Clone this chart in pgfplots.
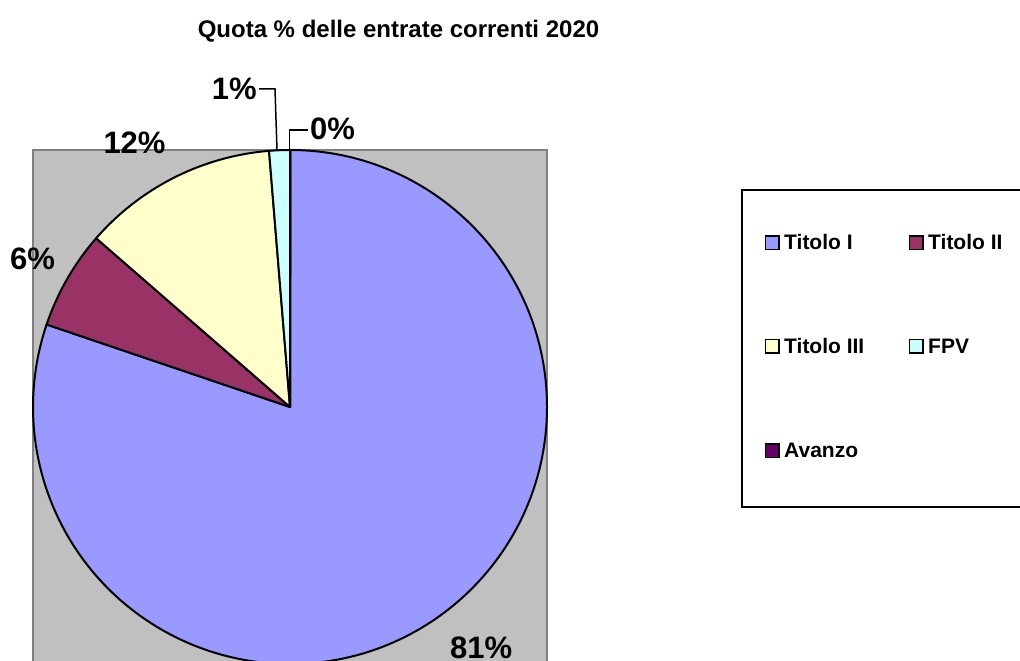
\documentclass[border=0pt]{standalone}
\usepackage{fontspec}
\setmainfont{Liberation Sans}
\usepackage{pgfplots}
\usepackage{pgfplotstable}
\pgfplotsset{compat=1.18}
\definecolor{slice0}{HTML}{9999FF}
\definecolor{slice1}{HTML}{993366}
\definecolor{slice2}{HTML}{FFFFCC}
\definecolor{slice3}{HTML}{CCFFFF}
\definecolor{slice4}{HTML}{660066}
\definecolor{plotgray}{HTML}{C0C0C0}
\definecolor{bordergray}{HTML}{808080}

% share of each slice (percent) and its printed label, label position (px from left, pt from bottom)
\pgfplotstableread[col sep=comma]{
name,value,label,lx,ly
Titolo I,80.2,81,450,2.7
Titolo II,6.2,6,10,391.7
Titolo III,12.3,12,103.3,507.7
FPV,1.3,1,211.7,561.7
Avanzo,0.03,0,310,521.7
}\piedata

\begin{document}
\begin{tikzpicture}
\useasboundingbox (0,0) rectangle (1020pt,661pt);
\xdef\cum{0}
\foreach \i in {0,...,4}{
  \pgfplotstablegetelem{\i}{value}\of\piedata
  \pgfmathsetmacro\s{90-3.6*\cum}
  \pgfmathsetmacro\e{90-3.6*(\cum+\pgfplotsretval)}
  \pgfmathsetmacro\c{\cum+\pgfplotsretval}
  \expandafter\xdef\csname sa\i\endcsname{\s}
  \expandafter\xdef\csname ea\i\endcsname{\e}
  \xdef\cum{\c}
  \pgfplotstablegetelem{\i}{label}\of\piedata
  \expandafter\xdef\csname lab\i\endcsname{\pgfplotsretval}
  \pgfplotstablegetelem{\i}{lx}\of\piedata
  \expandafter\xdef\csname lx\i\endcsname{\pgfplotsretval}
  \pgfplotstablegetelem{\i}{ly}\of\piedata
  \expandafter\xdef\csname ly\i\endcsname{\pgfplotsretval}
}
\begin{axis}[
  x=1pt, y=1pt,
  xmin=0, xmax=1020, ymin=0, ymax=661,
  at={(0,0)}, anchor=origin,
  hide axis,
]
% plot area
\filldraw[fill=plotgray, draw=bordergray, line width=2pt] (axis cs:32.5,-10) rectangle (axis cs:547,511);
% slices
\pgfplotsinvokeforeach{0,...,4}{
  \filldraw[fill=slice#1, draw=black, line width=2pt, line join=round]
    (axis cs:290,254) -- ([shift={(\csname sa#1\endcsname:257pt)}]axis cs:290,254)
    arc[start angle=\csname sa#1\endcsname, end angle=\csname ea#1\endcsname, radius=257pt] -- cycle;
  \node[anchor=base west, inner sep=0pt, font=\fontsize{31pt}{31pt}\selectfont\bfseries]
    at (axis cs:\csname lx#1\endcsname,\csname ly#1\endcsname) {\csname lab#1\endcsname\%};
}
% leader lines
\draw[line width=1.5pt] (axis cs:259,572) -- (axis cs:275,572) -- (axis cs:277,511);
\draw[line width=1.5pt] (axis cs:308,531) -- (axis cs:289.5,531) -- (axis cs:289.5,511);
% title
\node[anchor=base, inner sep=0pt, font=\fontsize{24pt}{24pt}\selectfont\bfseries]
  at (axis cs:398.5,623.7) {Quota \% delle entrate correnti 2020};
% legend
\draw[line width=2pt] (axis cs:741.5,154) rectangle (axis cs:1040,471);
\filldraw[fill=slice0, line width=1.5pt] (axis cs:765.5,411.5) rectangle (axis cs:779,425);
\node[anchor=base west, inner sep=0pt, font=\fontsize{21pt}{21pt}\selectfont\bfseries] at (axis cs:784,411) {Titolo I};
\filldraw[fill=slice1, line width=1.5pt] (axis cs:909.5,411.5) rectangle (axis cs:923,425);
\node[anchor=base west, inner sep=0pt, font=\fontsize{21pt}{21pt}\selectfont\bfseries] at (axis cs:928,411) {Titolo II};
\filldraw[fill=slice2, line width=1.5pt] (axis cs:765.5,308) rectangle (axis cs:779,321.5);
\node[anchor=base west, inner sep=0pt, font=\fontsize{21pt}{21pt}\selectfont\bfseries] at (axis cs:784,307.5) {Titolo III};
\filldraw[fill=slice3, line width=1.5pt] (axis cs:909.5,308) rectangle (axis cs:923,321.5);
\node[anchor=base west, inner sep=0pt, font=\fontsize{21pt}{21pt}\selectfont\bfseries] at (axis cs:928,307.5) {FPV};
\filldraw[fill=slice4, line width=1.5pt] (axis cs:765.5,203.5) rectangle (axis cs:779,217);
\node[anchor=base west, inner sep=0pt, font=\fontsize{21pt}{21pt}\selectfont\bfseries] at (axis cs:784,203) {Avanzo};
\end{axis}
\end{tikzpicture}
\end{document}
